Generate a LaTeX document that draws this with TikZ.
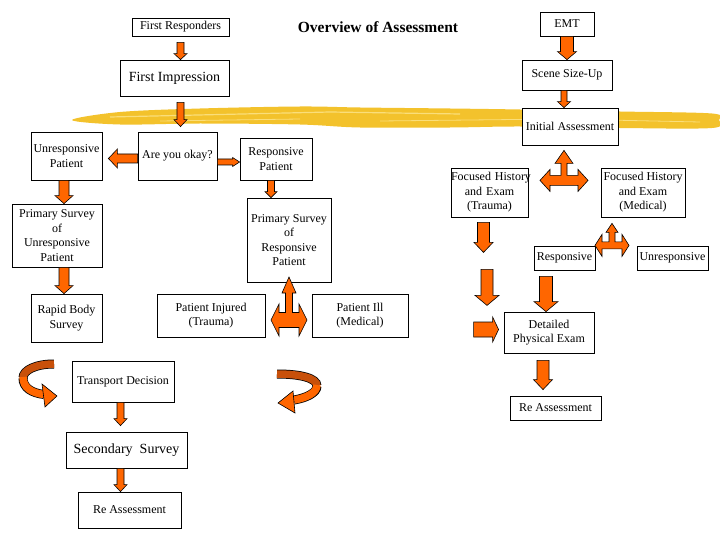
\documentclass[tikz,border=0pt]{standalone}
\usepackage{fontspec}
\setmainfont{Liberation Serif}
\usepackage{tikz}
\usetikzlibrary{positioning,calc}

\definecolor{arroworange}{HTML}{FF6600}
\definecolor{curldark}{HTML}{C8500A}
\definecolor{brushyellow}{HTML}{F3C22C}
\definecolor{brushlight}{HTML}{FADE7A}

% block arrow: start, end, half shaft, half head, head length
\newcommand{\fatarrow}[5]{%
  \coordinate (fa-s) at (#1);
  \coordinate (fa-e) at (#2);
  \coordinate (fa-h) at ($(fa-e)!#5pt!(fa-s)$);
  \draw[fatarrow] ($(fa-s)!#3pt!90:(fa-e)$) -- ($(fa-h)!#3pt!90:(fa-e)$)
    -- ($(fa-h)!#4pt!90:(fa-e)$) -- (fa-e) -- ($(fa-h)!#4pt!-90:(fa-e)$)
    -- ($(fa-h)!#3pt!-90:(fa-e)$) -- ($(fa-s)!#3pt!-90:(fa-e)$) -- cycle;
}
% up/left/right arrow: centre, up tip, up head base, up half head, stem,
% half bar, side head base, side tip, side half head
\newcommand{\threeway}[9]{%
  \draw[fatarrow, shift={(#1)}] (0,-#2) -- (#4,-#3) -- (#5,-#3) -- (#5,-#6)
    -- (#7,-#6) -- (#7,-#9) -- (#8,0) -- (#7,#9) -- (#7,#6) -- (-#7,#6)
    -- (-#7,#9) -- (-#8,0) -- (-#7,-#9) -- (-#7,-#6) -- (-#5,-#6)
    -- (-#5,-#3) -- (-#4,-#3) -- cycle;
}

\begin{document}
\begin{tikzpicture}[
    x=1pt, y=-1pt,
    box/.style={
      draw,
      fill=white,
      line width=0.8pt,
      inner sep=0pt,
      align=center,
      font=\fontsize{12}{14.5}\selectfont
    },
    fatarrow/.style={draw=black, line width=0.6pt, fill=arroworange, line join=miter},
    curlline/.style={line width=#1, line cap=butt},
    brush/.style={fill=brushyellow}
  ]
    \fill[white] (0,0) rectangle (720,540);
    \useasboundingbox (0,0) rectangle (720,540);

    % yellow brush stroke
    \fill[brush] plot[smooth cycle, tension=0.55] coordinates {
      (72,120) (120,112) (200,108.5) (300,106.5) (360,107.5) (450,108.5) (520,109.5)
      (620,111.5) (712,113.5) (719,120) (712,128) (620,128) (520,126.5) (450,127.5)
      (360,127.5) (300,124.5) (200,123.5) (120,124.5)};
    \draw[brushlight, line width=1.2pt] (110,117) -- (330,112) -- (460,114);
    \draw[brushlight, line width=0.8pt] (380,121) -- (560,119) -- (700,122);
    \draw[brushlight, line width=0.8pt] (160,121) -- (300,119);

    \node[font=\bfseries\fontsize{15.5}{18}\selectfont] (title) at (378,27) {Overview of Assessment};

    % left column
    \node[box, minimum width=97pt, minimum height=18pt] (fr) at (180.5,27) {First Responders};
    \node[box, minimum width=109pt, minimum height=36pt, font=\fontsize{14}{16}\selectfont] (fi) at (174.5,78) {First Impression};
    \node[box, minimum width=79pt, minimum height=48pt] (ayo) at (177.5,156) {Are you okay?};
    \node[box, minimum width=71pt, minimum height=48pt] (unr) at (66.5,156) {Unresponsive\\Patient};
    \node[box, minimum width=72pt, minimum height=42pt] (resp) at (276,159) {Responsive\\Patient};
    \node[box, minimum width=90pt, minimum height=63pt] (psu) at (57,235.5) {Primary Survey\\of\\Unresponsive\\Patient};
    \node[box, minimum width=71pt, minimum height=48pt] (rbs) at (66.5,318) {Rapid Body\\Survey};
    \node[box, minimum width=84pt, minimum height=84pt] (psr) at (289,240) {Primary Survey\\of\\Responsive\\Patient};
    \node[box, minimum width=108pt, minimum height=43pt] (pinj) at (211,315.5) {Patient Injured\\(Trauma)};
    \node[box, minimum width=96pt, minimum height=43pt] (pill) at (360,315.5) {Patient Ill\\(Medical)};
    \node[box, minimum width=102pt, minimum height=41pt] (td) at (123,381.5) {Transport Decision};
    \node[box, minimum width=121pt, minimum height=36pt, font=\fontsize{14}{16}\selectfont] (ss) at (126.5,450) {Secondary\ \ Survey};
    \node[box, minimum width=103pt, minimum height=36pt] (rel) at (129.5,510) {Re Assessment};

    % right column
    \node[box, minimum width=54pt, minimum height=24pt] (emt) at (567,24) {EMT};
    \node[box, minimum width=90pt, minimum height=30pt] (ssu) at (567,75) {Scene Size-Up};
    \node[box, minimum width=96pt, minimum height=37pt] (ia) at (570,126.5) {Initial Assessment};
    \node[box, minimum width=77pt, minimum height=49pt, text width=77pt] (fht) at (489.5,192.5) {\mbox{Focused History}\\and Exam\\(Trauma)};
    \node[box, minimum width=84pt, minimum height=49pt] (fhm) at (643,192.5) {Focused History\\and Exam\\(Medical)};
    \node[box, minimum width=61pt, minimum height=24pt] (rsp) at (564.5,258) {Responsive};
    \node[box, minimum width=71pt, minimum height=24pt] (unrsp) at (672.5,258) {Unresponsive};
    \node[box, minimum width=90pt, minimum height=41pt] (dpe) at (549,332.5) {Detailed\\Physical Exam};
    \node[box, minimum width=91pt, minimum height=24pt] (rer) at (555.5,408) {Re Assessment};

    % block arrows
    \fatarrow{$(fr.south)+(0,6)$}{fr.south |- fi.north}{3.5}{6.5}{6}
    \fatarrow{$(fr.south |- fi.south)+(0,6)$}{$(fr.south |- ayo.north)+(0,-5)$}{3.5}{6.5}{7}
    \fatarrow{$(ayo.west)+(0,2.5)$}{$(unr.east)+(6,2.5)$}{4.5}{9.5}{9}
    \fatarrow{$(ayo.east)+(0,6)$}{$(resp.west)+(0,3)$}{3}{4.5}{7}
    \fatarrow{$(unr.south)+(-2.5,0)$}{$(unr.south |- psu.north)+(-2.5,0)$}{5}{9}{8}
    \fatarrow{$(rbs.north |- psu.south)+(-2.5,0)$}{$(rbs.north)+(-2.5,0)$}{5}{9}{8}
    \fatarrow{$(resp.south)+(-5,0)$}{$(resp.south |- psr.north)+(-5,0)$}{3.5}{6}{6}
    \fatarrow{$(td.south)+(-2.5,0)$}{$(td.south |- ss.north)+(-2.5,-6)$}{3.5}{6.5}{7}
    \fatarrow{$(td.south |- ss.south)+(-2.5,0)$}{$(td.south |- rel.north)+(-2.5,0)$}{3.5}{6.5}{7}

    \fatarrow{emt.south}{ssu.north}{6.5}{9.5}{8}
    \fatarrow{$(ssu.south)+(-3,0)$}{$(ssu.south |- ia.north)+(-3,0)$}{3}{6.5}{6}
    \fatarrow{$(fht.south)+(-6,5)$}{$(fht.south)+(-6,35)$}{6}{9.5}{10}
    \fatarrow{$(fht.south)+(-2.5,52)$}{$(fht.south)+(-2.5,88)$}{6}{12}{10}
    \fatarrow{$(dpe.west)+(-30,-3)$}{$(dpe.west)+(-5,-3)$}{7.5}{12.5}{6}
    \fatarrow{$(rsp.south)+(-18.5,6)$}{$(rsp.south |- dpe.north)+(-18.5,0)$}{6.5}{12}{10}
    \fatarrow{$(dpe.south)+(-6,7)$}{$(dpe.south |- rer.north)+(-6,-6)$}{6}{9.5}{10}

    % three-way arrows
    \coordinate (tw1) at ($(psr.south |- pinj.east)+(0,4.5)$);
    \coordinate (tw2) at ($(ia.south)+(-6,35)$);
    \coordinate (tw3) at ($(fhm.south)+(-31,28)$);
    \threeway{tw1}{43}{27}{7}{3.5}{7.5}{10}{18}{16}
    \threeway{tw2}{30}{17}{9}{3}{5}{14}{24}{11}
    \threeway{tw3}{22}{13}{6}{3}{3.5}{10}{17}{11}

    % curled arrows
    \draw[curlline=9pt] (54,364) .. controls (36,364) and (23,370) .. (23,378);
    \draw[curlline=9pt] (23,378) .. controls (23,388) and (32,393) .. (44,394.5);
    \draw[curlline=7.5pt, curldark] (54,364) .. controls (36,364) and (23,370) .. (23,378);
    \draw[curlline=7.5pt, arroworange] (23,377) .. controls (23,388) and (32,393) .. (44,394.5);
    \draw[fatarrow] (42,384) -- (57,396) -- (45,407) -- cycle;

    \draw[curlline=9pt] (277,374) .. controls (300,374) and (317,378) .. (317,386);
    \draw[curlline=9pt] (317,386) .. controls (317,393) and (306,398) .. (294,400);
    \draw[curlline=7.5pt, curldark] (277,374) .. controls (300,374) and (317,378) .. (317,386);
    \draw[curlline=7.5pt, arroworange] (317,385) .. controls (317,393) and (306,398) .. (294,400);
    \draw[fatarrow] (293,391) -- (278,403) -- (295,413) -- cycle;
  \end{tikzpicture}
\end{document}
